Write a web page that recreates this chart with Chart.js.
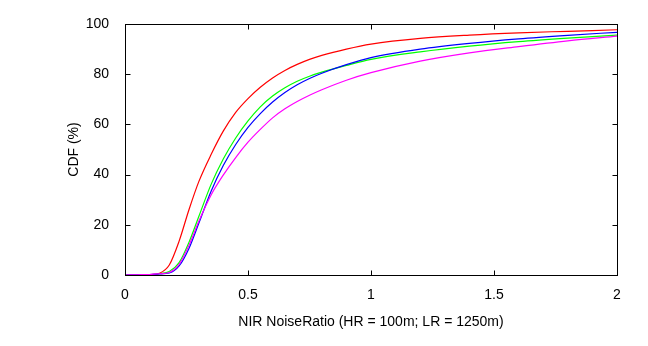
<!DOCTYPE html>
<html>
<head>
<meta charset="utf-8">
<title>NIR NoiseRatio CDF</title>
<script src="https://cdn.jsdelivr.net/npm/chart.js@4.4.1/dist/chart.umd.min.js"></script>
<style>
  html, body { margin: 0; padding: 0; background: #fff; }
  #wrap { width: 648px; height: 346px; }
</style>
</head>
<body>
<div id="wrap"><canvas id="cdfChart" width="648" height="346"></canvas></div>
<script>
// ===============================
// Data
// ===============================
const noiseRatio = [0, 0.05, 0.1, 0.14, 0.18, 0.22, 0.26, 0.3, 0.35, 0.4, 0.45, 0.5,
  0.55, 0.6, 0.65, 0.7, 0.75, 0.8, 0.9, 1.0, 1.2, 1.4, 1.6, 1.8, 2.0];

const cdfRed = [0, 0, 0.1, 0.7, 4, 13.5, 26, 37.2, 48, 57.4, 64.8, 70.3,
  74.8, 78.5, 81.5, 83.9, 85.9, 87.5, 90, 92, 94.3, 95.6, 96.5, 97.1, 97.7];
const cdfGreen = [0, 0, 0.1, 0.5, 1.4, 4.9, 13, 23.3, 36.1, 46.3, 54.6, 61.4,
  67, 71.3, 74.6, 77.2, 79.2, 80.8, 83.5, 85.9, 88.9, 91.2, 93, 94.4, 95.6];
const cdfBlue = [0, 0.1, 0.2, 0.4, 0.8, 3.6, 10.6, 20.6, 33.4, 43.7, 52, 58.8,
  64.3, 68.9, 72.7, 75.8, 78.3, 80.4, 83.8, 86.6, 90, 92.3, 94.1, 95.5, 96.7];
const cdfMagenta = [0, 0.1, 0.2, 0.5, 1, 4.2, 11.8, 21.4, 31.9, 39.9, 46.8, 52.9,
  58, 62.6, 66.2, 69.1, 71.6, 73.8, 77.6, 80.6, 85.2, 88.5, 91, 93.3, 95.2];

const xTicks = [0, 0.5, 1, 1.5, 2];
const xTickLabels = ["0", "0.5", "1", "1.5", "2"];
const yTicks = [0, 20, 40, 60, 80, 100];
const yTickLabels = ["0", "20", "40", "60", "80", "100"];

const FONT = "'Liberation Sans', Arial, sans-serif";

// pair x with y for a linear x axis
function toPoints(ys) {
  return noiseRatio.map((x, i) => ({ x: x, y: ys[i] }));
}

function lineSet(label, ys, color, order) {
  return {
    label: label,
    data: toPoints(ys),
    borderColor: color,
    backgroundColor: color,
    borderWidth: 1.2,
    pointRadius: 0,
    cubicInterpolationMode: "monotone",
    fill: false,
    order: order
  };
}

// MATLAB-like box with inward ticks on all four sides
const boxTicks = {
  id: "boxTicks",
  afterDatasetsDraw(chart) {
    const { ctx, chartArea: a, scales: { x, y } } = chart;
    const L = Math.round(a.left) + 0.5;
    const R = Math.round(a.right) + 0.5;
    const T = Math.round(a.top) + 0.5;
    const B = Math.round(a.bottom) + 0.5;
    const len = 5;

    ctx.save();
    ctx.strokeStyle = "#000";
    ctx.lineWidth = 1;
    ctx.beginPath();
    xTicks.forEach(v => {
      const px = Math.round(x.getPixelForValue(v)) + 0.5;
      ctx.moveTo(px, B); ctx.lineTo(px, B - len);
      ctx.moveTo(px, T); ctx.lineTo(px, T + len);
    });
    yTicks.forEach(v => {
      const py = Math.round(y.getPixelForValue(v)) + 0.5;
      ctx.moveTo(L, py); ctx.lineTo(L + len, py);
      ctx.moveTo(R, py); ctx.lineTo(R - len, py);
    });
    ctx.stroke();
    ctx.strokeRect(L, T, R - L, B - T);
    ctx.restore();
  }
};

document.addEventListener("DOMContentLoaded", () => {
  const ctx = document.getElementById("cdfChart").getContext("2d");

  new Chart(ctx, {
    type: "line",
    data: {
      datasets: [
        lineSet("red", cdfRed, "#ff0000", 4),
        lineSet("green", cdfGreen, "#00ff00", 3),
        lineSet("blue", cdfBlue, "#0000ff", 2),
        lineSet("magenta", cdfMagenta, "#ff00ff", 1)
      ]
    },
    options: {
      responsive: false,
      animation: false,
      devicePixelRatio: 1,
      layout: { padding: { top: 24, right: 31, bottom: 0, left: 0 } },
      plugins: {
        legend: { display: false },
        tooltip: { enabled: false },
        title: { display: false }
      },
      scales: {
        x: {
          type: "linear",
          min: 0,
          max: 2,
          grid: { display: false },
          border: { display: false },
          afterBuildTicks: scale => {
            scale.ticks = xTicks.map(v => ({ value: v }));
          },
          afterFit: scale => { scale.height = 71; },
          ticks: {
            color: "#000",
            padding: 4,
            maxRotation: 0,
            font: { family: FONT, size: 14 },
            callback: value => xTickLabels[xTicks.indexOf(value)]
          },
          title: {
            display: true,
            text: "NIR NoiseRatio (HR = 100m; LR = 1250m)",
            color: "#000",
            font: { family: FONT, size: 14 },
            padding: { top: 0, bottom: 15 }
          }
        },
        y: {
          type: "linear",
          min: 0,
          max: 100,
          grid: { display: false },
          border: { display: false },
          afterBuildTicks: scale => {
            scale.ticks = yTicks.map(v => ({ value: v }));
          },
          afterFit: scale => { scale.width = 125; },
          ticks: {
            color: "#000",
            padding: 8,
            font: { family: FONT, size: 14 },
            callback: value => yTickLabels[yTicks.indexOf(value)]
          },
          title: {
            display: true,
            text: "CDF (%)",
            color: "#000",
            font: { family: FONT, size: 14 },
            padding: { top: 66, bottom: 0 }
          }
        }
      }
    },
    plugins: [boxTicks]
  });
});
</script>
</body>
</html>
